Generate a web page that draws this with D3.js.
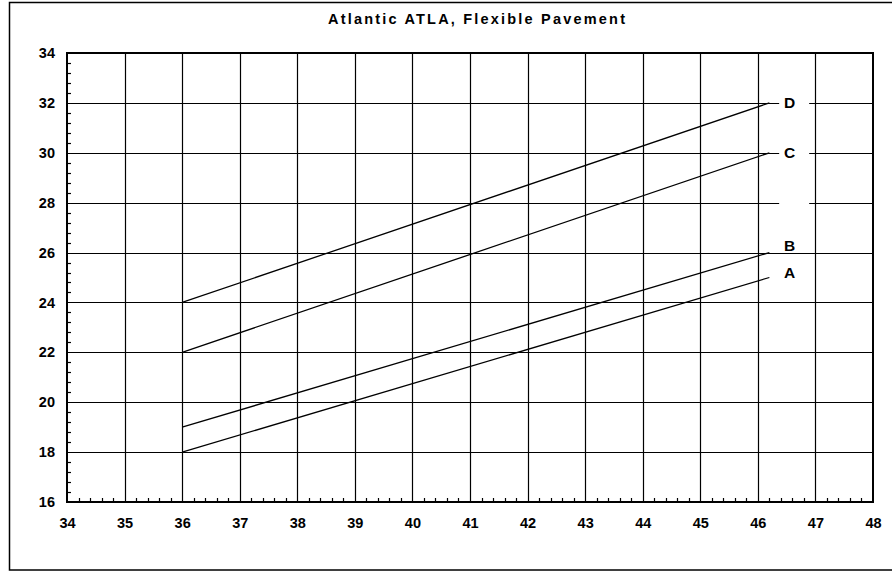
<!DOCTYPE html>
<html>
<head>
<meta charset="utf-8">
<script src="https://cdn.jsdelivr.net/npm/d3@7"></script>
<style>
  html, body { margin: 0; padding: 0; background: #fff; }
  svg { display: block; }
  text { font-family: "Liberation Sans", Arial, sans-serif; font-weight: bold; fill: #000; }
</style>
</head>
<body>
<svg id="chart" width="892" height="571"></svg>
<script>
// ---- data ----
const title = "Atlantic ATLA, Flexible Pavement";
const xTicks = [34, 35, 36, 37, 38, 39, 40, 41, 42, 43, 44, 45, 46, 47, 48];
const yTicks = [16, 18, 20, 22, 24, 26, 28, 30, 32, 34];
const seriesNames = ["A", "B", "C", "D"];
const seriesX = [36, 46.2];
const seriesA = [18, 25];
const seriesB = [19, 26];
const seriesC = [22, 30];
const seriesD = [24, 32];
const labelTexts = ["A", "B", "", "C", "D"];
const labelValues = [25.2, 26.3, 28, 30, 32];
const labelX = 46.37;

// ---- layout ----
const svg = d3.select("#chart");
const plot = { left: 67, top: 53, right: 873, bottom: 502 };

const x = d3.scaleLinear().domain([34, 48]).range([plot.left, plot.right]);
const y = d3.scaleLinear().domain([16, 34]).range([plot.bottom, plot.top]);

// outer frame
svg.append("rect")
  .attr("x", 9.5).attr("y", 2.5)
  .attr("width", 900).attr("height", 567.5)
  .attr("fill", "#fff").attr("stroke", "#000").attr("stroke-width", 1.5);

// title
svg.append("text")
  .attr("x", 476.5).attr("y", 24)
  .attr("text-anchor", "middle")
  .style("font-size", "14.5px")
  .attr("textLength", 297).attr("lengthAdjust", "spacing")
  .text(title);

const g = svg.append("g");

// grid
g.append("g").selectAll("line")
  .data(xTicks.filter(d => d > 34 && d < 48))
  .join("line")
  .attr("x1", d => Math.round(x(d)) + 0.5).attr("x2", d => Math.round(x(d)) + 0.5)
  .attr("y1", plot.top).attr("y2", plot.bottom)
  .attr("stroke", "#000").attr("stroke-width", 1.2);

g.append("g").selectAll("line")
  .data(yTicks.filter(d => d > 16 && d < 34))
  .join("line")
  .attr("x1", plot.left).attr("x2", plot.right)
  .attr("y1", d => Math.round(y(d)) + 0.5).attr("y2", d => Math.round(y(d)) + 0.5)
  .attr("stroke", "#000").attr("stroke-width", 1.2);

// minor ticks (inside)
const xMinor = d3.range(34, 48, 0.2).map(v => +v.toFixed(1)).filter(v => Math.abs(v - Math.round(v)) > 1e-6);
g.append("g").selectAll("line")
  .data(xMinor)
  .join("line")
  .attr("x1", d => Math.round(x(d)) + 0.5).attr("x2", d => Math.round(x(d)) + 0.5)
  .attr("y1", plot.bottom).attr("y2", plot.bottom - 4)
  .attr("stroke", "#000").attr("stroke-width", 1.2);

const yMinor = d3.range(16, 34, 0.4).map(v => +v.toFixed(1)).filter(v => Math.abs(v / 2 - Math.round(v / 2)) > 1e-6);
g.append("g").selectAll("line")
  .data(yMinor)
  .join("line")
  .attr("x1", plot.left).attr("x2", plot.left + 4)
  .attr("y1", d => Math.round(y(d)) + 0.5).attr("y2", d => Math.round(y(d)) + 0.5)
  .attr("stroke", "#000").attr("stroke-width", 1.2);

// series lines
const seriesValues = [seriesA, seriesB, seriesC, seriesD];
const line = d3.line().x(d => x(d[0])).y(d => y(d[1]));
g.append("g").selectAll("path")
  .data(seriesValues.map(vals => seriesX.map((xv, i) => [xv, vals[i]])))
  .join("path")
  .attr("d", line)
  .attr("fill", "none")
  .attr("stroke", "#000").attr("stroke-width", 1.3);

// labels with white background
const lab = g.append("g").selectAll("g")
  .data(labelTexts.map((txt, i) => ({ txt, v: labelValues[i] })))
  .join("g");
lab.append("rect")
  .attr("x", x(labelX))
  .attr("y", d => y(d.v) - 7)
  .attr("width", 30).attr("height", 14)
  .attr("fill", "#fff");
lab.append("text")
  .attr("x", x(labelX) + 10.5)
  .attr("y", d => y(d.v) + 5.5)
  .attr("text-anchor", "middle")
  .style("font-size", "15.5px")
  .text(d => d.txt);

// plot border
svg.append("rect")
  .attr("x", plot.left).attr("y", plot.top)
  .attr("width", plot.right - plot.left).attr("height", plot.bottom - plot.top)
  .attr("fill", "none").attr("stroke", "#000").attr("stroke-width", 2);

// axes (labels only, via d3 axis)
const xAxis = d3.axisBottom(x).tickValues(xTicks).tickSize(0).tickPadding(16).tickFormat(d3.format("d"));
const xg = svg.append("g").attr("transform", `translate(0,${plot.bottom})`).call(xAxis);
xg.select(".domain").remove();
xg.selectAll("text").style("font-size", "14.5px").style("font-family", "Liberation Sans, Arial, sans-serif")
  .style("font-weight", "bold").attr("fill", "#000");

const yAxis = d3.axisLeft(y).tickValues(yTicks).tickSize(0).tickPadding(12).tickFormat(d3.format("d"));
const yg = svg.append("g").attr("transform", `translate(${plot.left},0)`).call(yAxis);
yg.select(".domain").remove();
yg.selectAll("text").style("font-size", "14.5px").style("font-family", "Liberation Sans, Arial, sans-serif")
  .style("font-weight", "bold").attr("fill", "#000");
</script>
</body>
</html>
